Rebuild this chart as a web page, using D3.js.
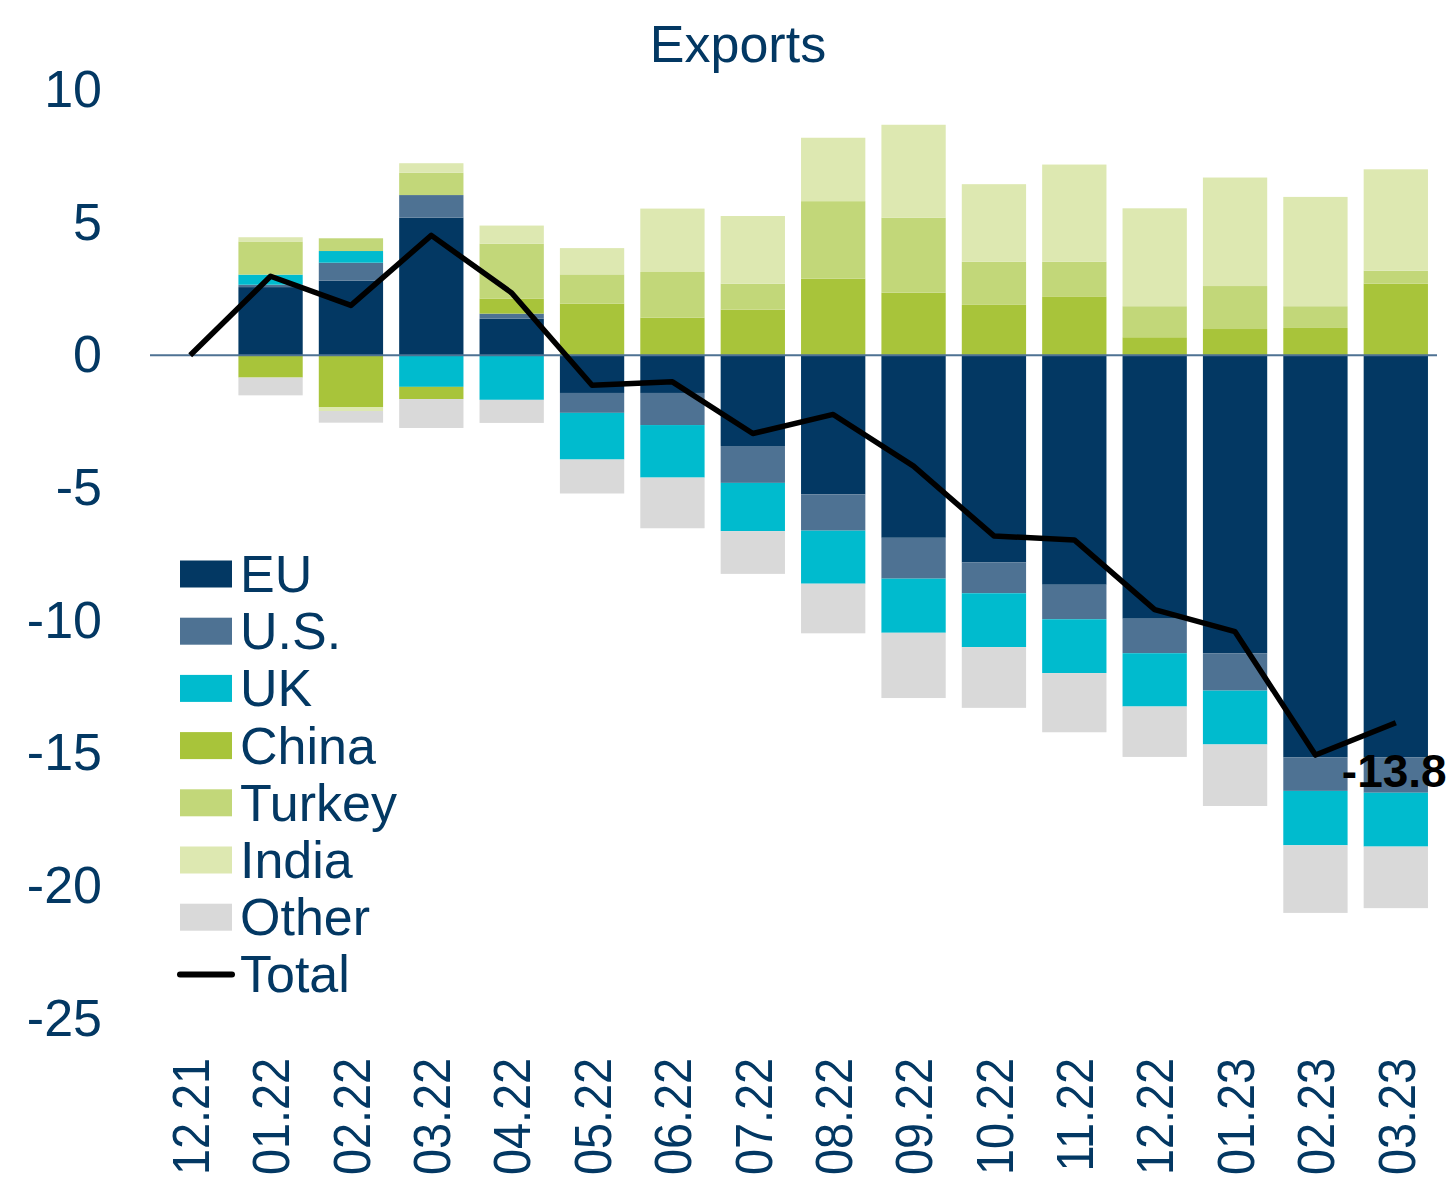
<!DOCTYPE html>
<html>
<head>
<meta charset="utf-8">
<script src="https://cdn.jsdelivr.net/npm/d3@7"></script>
<style>
  body { margin: 0; background: #fff; }
  text { font-family: "Liberation Sans", Arial, sans-serif; }
</style>
</head>
<body>
<script>
// categories (month.year)
const months = ["12.21", "01.22", "02.22", "03.22", "04.22", "05.22", "06.22", "07.22",
  "08.22", "09.22", "10.22", "11.22", "12.22", "01.23", "02.23", "03.23"];

// contributions by destination
const eu = [0, 2.57, 2.81, 5.19, 1.38, -1.42, -1.42, -3.42, -5.24, -6.88, -7.81, -8.65, -9.93, -11.23, -15.16, -15.16];
const us = [0, 0.09, 0.68, 0.85, 0.19, -0.75, -1.21, -1.39, -1.37, -1.54, -1.16, -1.30, -1.30, -1.41, -1.26, -1.33];
const uk = [0, 0.38, 0.44, -1.19, -1.68, -1.76, -1.98, -1.82, -2.0, -2.04, -2.03, -2.03, -2.01, -2.03, -2.05, -2.03];
const china = [0, -0.84, -1.95, -0.46, 0.57, 1.95, 1.42, 1.72, 2.89, 2.36, 1.90, 2.22, 0.68, 0.99, 1.03, 2.70];
const turkey = [0, 1.25, 0.48, 0.84, 2.07, 1.10, 1.72, 0.98, 2.92, 2.83, 1.63, 1.31, 1.17, 1.62, 0.82, 0.49];
const india = [0, 0.16, -0.15, 0.36, 0.68, 0.99, 2.39, 2.55, 2.39, 3.5, 2.92, 3.66, 3.69, 4.09, 4.12, 3.82];
const other = [0, -0.67, -0.44, -1.09, -0.87, -1.28, -1.91, -1.61, -1.87, -2.46, -2.29, -2.23, -1.90, -2.32, -2.55, -2.32];
const total = [0, 2.98, 1.88, 4.52, 2.35, -1.13, -1.0, -2.95, -2.23, -4.18, -6.81, -6.96, -9.59, -10.42, -15.07, -13.85];

const yTicks = [10, 5, 0, -5, -10, -15, -20, -25];

const seriesNames = ["EU", "U.S.", "UK", "China", "Turkey", "India", "Other"];
const seriesValues = [eu, us, uk, china, turkey, india, other];
const colors = ["#033863", "#4e7293", "#00bbce", "#a8c43a", "#c2d779", "#dde8b1", "#d9d9d9"];
const textColor = "#033863";

const w = 1450;
const h = 1186;

// rows for d3.stack
const table = months.map((m, i) => {
  const row = { month: m };
  seriesNames.forEach((s, j) => (row[s] = seriesValues[j][i]));
  return row;
});

const stacked = d3.stack().keys(seriesNames).offset(d3.stackOffsetDiverging)(table);

const xScale = d3.scaleBand().domain(months).range([150, 1436]).paddingInner(0.2).paddingOuter(0.1);
const yScale = d3.scaleLinear().domain([-25, 10]).range([1018.5, 90]);

const svg = d3.select("body").append("svg").attr("width", w).attr("height", h);

// title
svg.append("text")
  .attr("x", 738)
  .attr("y", 62)
  .attr("text-anchor", "middle")
  .attr("font-size", 52)
  .attr("fill", textColor)
  .text("Exports");

// stacked bars
svg.append("g")
  .selectAll("g")
  .data(stacked)
  .enter()
  .append("g")
  .attr("fill", (d, i) => colors[i])
  .selectAll("rect")
  .data((d) => d)
  .enter()
  .append("rect")
  .attr("x", (d) => xScale(d.data.month))
  .attr("y", (d) => yScale(Math.max(d[0], d[1])))
  .attr("width", xScale.bandwidth())
  .attr("height", (d) => Math.abs(yScale(d[0]) - yScale(d[1])));

// zero line
svg.append("line")
  .attr("x1", 150)
  .attr("x2", 1437)
  .attr("y1", yScale(0))
  .attr("y2", yScale(0))
  .attr("stroke", "#4e7293")
  .attr("stroke-width", 2);

// y axis (labels only), plain hyphen for negatives
const yAxis = d3.axisLeft(yScale).tickValues(yTicks).tickSize(0).tickPadding(0).tickFormat((d) => String(d));
const yG = svg.append("g").attr("transform", "translate(102,0)").call(yAxis);
yG.select(".domain").remove();
yG.selectAll("text")
  .attr("font-size", 52)
  .attr("fill", textColor)
  .attr("font-family", "Liberation Sans, Arial, sans-serif");

// x axis labels, rotated
const xAxis = d3.axisBottom(xScale).tickSize(0).tickPadding(0);
const xG = svg.append("g").attr("transform", "translate(0,1058)").call(xAxis);
xG.select(".domain").remove();
xG.selectAll("text")
  .attr("font-size", 52)
  .attr("fill", textColor)
  .attr("font-family", "Liberation Sans, Arial, sans-serif")
  .attr("text-anchor", "end")
  .attr("transform", "rotate(-90) scale(0.9,1)")
  .attr("x", 0)
  .attr("y", 0)
  .attr("dy", "0.36em");

// total line
const line = d3.line()
  .x((d, i) => xScale(months[i]) + xScale.bandwidth() / 2)
  .y((d) => yScale(d));

svg.append("path")
  .datum(total)
  .attr("d", line)
  .attr("fill", "none")
  .attr("stroke", "#000")
  .attr("stroke-width", 5.5)
  .attr("stroke-linejoin", "round");

// label for the last total
const last = total.length - 1;
svg.append("text")
  .attr("x", xScale(months[last]) + xScale.bandwidth() / 2 - 54)
  .attr("y", yScale(total[last]) + 64)
  .attr("font-size", 46)
  .attr("font-weight", "bold")
  .attr("fill", "#000")
  .text(total[last].toFixed(1));

// legend
const legend = svg.append("g").attr("transform", "translate(180,574)");
const rowH = 57.2;

seriesNames.forEach((name, i) => {
  legend.append("rect")
    .attr("x", 0)
    .attr("y", i * rowH - 13.5)
    .attr("width", 52)
    .attr("height", 27)
    .attr("fill", colors[i]);
  legend.append("text")
    .attr("x", 60)
    .attr("y", i * rowH + 18)
    .attr("font-size", 52)
    .attr("fill", textColor)
    .text(name);
});

const ty = seriesNames.length * rowH;
legend.append("line")
  .attr("x1", 0)
  .attr("x2", 52)
  .attr("y1", ty)
  .attr("y2", ty)
  .attr("stroke", "#000")
  .attr("stroke-width", 6)
  .attr("stroke-linecap", "round");
legend.append("text")
  .attr("x", 60)
  .attr("y", ty + 18)
  .attr("font-size", 52)
  .attr("fill", textColor)
  .text("Total");
</script>
</body>
</html>
